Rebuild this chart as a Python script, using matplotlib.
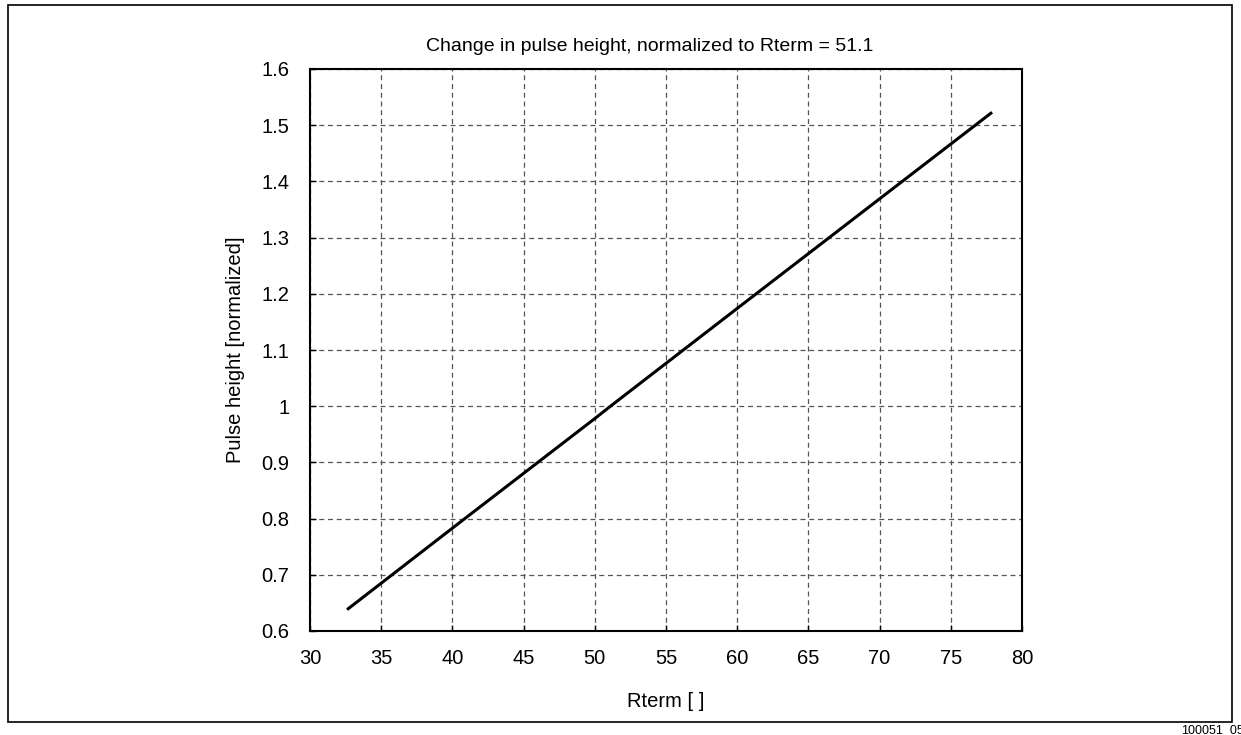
import matplotlib
matplotlib.use("Agg")
import matplotlib.pyplot as plt
from matplotlib.patches import Rectangle
from matplotlib.ticker import FuncFormatter

plt.rcParams['font.family'] = ['Liberation Sans', 'DejaVu Sans']

rterm = [32.6, 40, 50, 51.1, 60, 70, 77.9]
pulse_height = [0.638, 0.783, 0.978, 1.0, 1.174, 1.369, 1.523]

title = "Change in pulse height, normalized to Rterm = 51.1"
xlabel = "Rterm [ ]"
ylabel = "Pulse height [normalized]"
xticks = [30, 35, 40, 45, 50, 55, 60, 65, 70, 75, 80]
yticks = [0.6, 0.7, 0.8, 0.9, 1.0, 1.1, 1.2, 1.3, 1.4, 1.5, 1.6]

W, H = 1241, 735
fig = plt.figure(figsize=(W / 100, H / 100), dpi=100)
ax = fig.add_axes([310 / W, 1 - 631 / H, (1022 - 310) / W, (631 - 69) / H])

ax.plot(rterm, pulse_height, color='black', lw=2.2, solid_capstyle='butt')
ax.set_xlim(30, 80)
ax.set_ylim(0.6, 1.6)
ax.set_xticks(xticks)
ax.set_yticks(yticks)
ax.yaxis.set_major_formatter(FuncFormatter(lambda v, p: f"{v:g}"))
ax.tick_params(direction='in', length=4, width=1, labelsize=14.5, pad=13)
ax.tick_params(axis='y', pad=15)
ax.grid(True, color='#555555', linestyle=(0, (4, 3)), linewidth=0.9)
for s in ax.spines.values():
    s.set_linewidth(1.5)
ax.set_title(title, fontsize=14, pad=13, x=0.477)
ax.set_xlabel(xlabel, fontsize=14.5, labelpad=17)
ax.set_ylabel(ylabel, fontsize=14.5, labelpad=12)

fig.patches.append(Rectangle((8 / W, 1 - 722 / H), (1232 - 8) / W, (722 - 5) / H,
                             transform=fig.transFigure, fill=False, edgecolor='black', lw=1.2))
fig.text(1181 / W, 1 - 736 / H, "100051_051", fontsize=9, ha='left', va='bottom')

fig.savefig("out.png", dpi=100)
